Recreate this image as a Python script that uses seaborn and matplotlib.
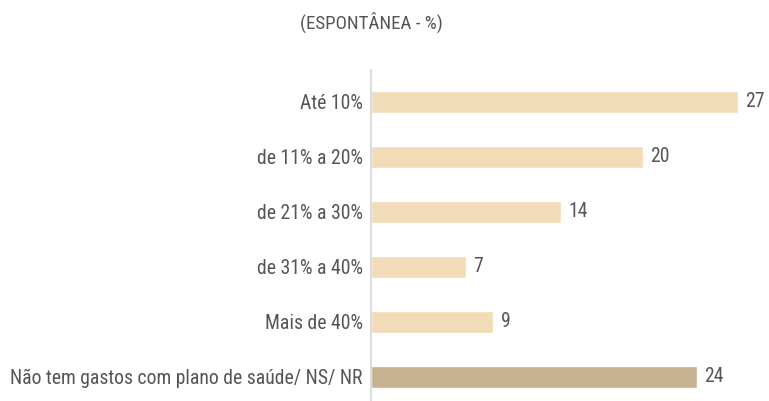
import matplotlib
matplotlib.use("Agg")
import matplotlib.pyplot as plt
import seaborn as sns
import pandas as pd

categories = ["Até 10%", "de 11% a 20%", "de 21% a 30%", "de 31% a 40%",
              "Mais de 40%", "Não tem gastos com plano de saúde/ NS/ NR"]
values = [27, 20, 14, 7, 9, 24]
bar_colors = ["#F2DCB8", "#F2DCB8", "#F2DCB8", "#F2DCB8", "#F2DCB8", "#C8B190"]
title = "(ESPONTÂNEA - %)"

sns.set_theme(style="white")
plt.rcParams["font.family"] = ["Liberation Sans Narrow", "Roboto Condensed", "Lato", "DejaVu Sans"]
text_color = "#555555"

df = pd.DataFrame({"cat": categories, "val": values})

fig = plt.figure(figsize=(7.69, 4.01), dpi=100)
W, H = 769, 401
ax = fig.add_axes([371 / W, 0, (W - 371) / W, (H - 70) / H])

sns.barplot(data=df, y="cat", x="val", hue="cat", palette=bar_colors,
            saturation=1, legend=False, width=0.4, ax=ax, orient="h")

ax.set_xlim(0, 29.29)
ax.set_ylim(5.44, -0.58)
ax.set_xlabel("")
ax.set_ylabel("")
ax.set_xticks([])
for s in ["top", "right", "bottom"]:
    ax.spines[s].set_visible(False)
ax.spines["left"].set_color("#DDDDDD")
ax.spines["left"].set_linewidth(1.5)

# fit the longest category label into the space left of the axis
label_size = 13
probe = fig.text(0, 0, categories[-1], fontsize=label_size)
fig.canvas.draw()
w = probe.get_window_extent().width
probe.remove()
label_size = label_size * 352 / w

ax.tick_params(axis="y", length=0, pad=6, labelsize=label_size, labelcolor=text_color)

for i, v in enumerate(values):
    ax.text(v + 0.55, i, f"{v}", va="center", ha="left",
            fontsize=label_size, color=text_color)

fig.text(371 / W, 1 - 22 / H, title, ha="center", va="center",
         fontsize=label_size * 0.96, color=text_color)

fig.savefig("out.png", dpi=100)
